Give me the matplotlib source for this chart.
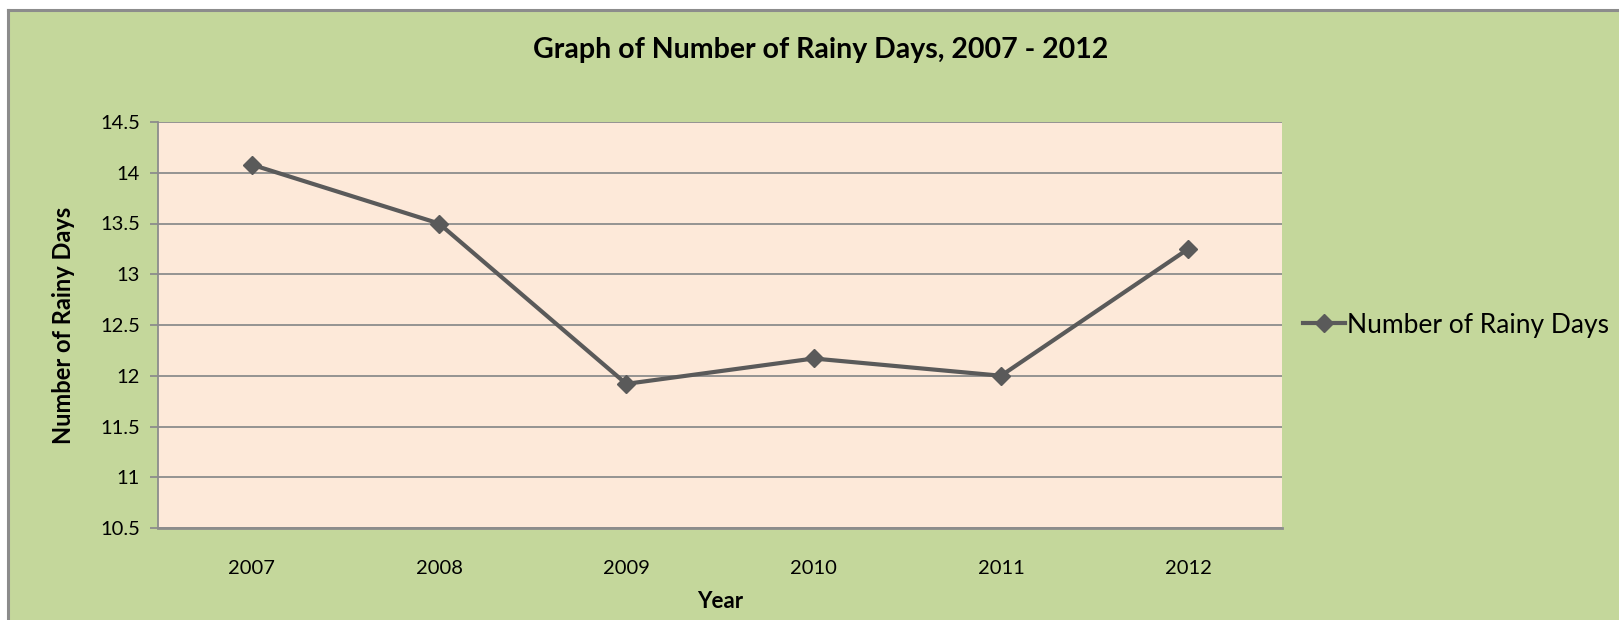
import matplotlib
matplotlib.use("Agg")
import matplotlib.pyplot as plt
from matplotlib.patches import Rectangle
from matplotlib.lines import Line2D

years = ["2007", "2008", "2009", "2010", "2011", "2012"]
rainy_days = [14.08, 13.5, 11.92, 12.17, 12.0, 13.25]
y_ticks = [10.5, 11, 11.5, 12, 12.5, 13, 13.5, 14, 14.5]
y_tick_labels = ["10.5", "11", "11.5", "12", "12.5", "13", "13.5", "14", "14.5"]

plt.rcParams['font.family'] = ['Lato', 'DejaVu Sans']

W, H = 1619, 620
fig = plt.figure(figsize=(W / 100, H / 100), dpi=100, facecolor='white')

# green chart area with grey border on top and left
x0, y0 = 8 / W, 1 - 10 / H
fig.patches.append(Rectangle((x0, 0), 1 - x0, y0, transform=fig.transFigure,
                             facecolor='#C4D79B', edgecolor='none', zorder=-5))
fig.lines.append(Line2D([x0, x0], [0, y0], transform=fig.transFigure, color='#8C8C8C', lw=2.2, zorder=-4))
fig.lines.append(Line2D([x0, 1], [y0, y0], transform=fig.transFigure, color='#8C8C8C', lw=2.2, zorder=-4))

left, right, top, bottom = 158, 1282, 122, 528
ax = fig.add_axes([left / W, 1 - bottom / H, (right - left) / W, (bottom - top) / H])
ax.set_zorder(1)
ax.set_facecolor('#FDE9D9')

x = range(len(years))
ax.plot(x, rainy_days, color='#5A5A5A', lw=3, marker='D', markersize=9,
        label='Number of Rainy Days', zorder=3)

ax.set_xlim(-0.5, len(years) - 0.5)
ax.set_ylim(10.5, 14.5)
ax.set_xticks(list(x))
ax.set_xticklabels(years, fontsize=14.5)
ax.set_yticks(y_ticks)
ax.set_yticklabels(y_tick_labels, fontsize=14.5)
ax.yaxis.grid(True, color='#8C8C8C', lw=1.3)
ax.set_axisbelow(True)

for s in ['top', 'right']:
    ax.spines[s].set_visible(False)
ax.spines['left'].set_color('#8C8C8C')
ax.spines['left'].set_linewidth(1.3)
ax.spines['bottom'].set_color('#8C8C8C')
ax.spines['bottom'].set_linewidth(2)
ax.tick_params(axis='y', length=6, width=1.3, color='#8C8C8C', pad=7)
ax.tick_params(axis='x', length=0, pad=23)

ax.set_xlabel('Year', fontsize=16, fontweight='bold', labelpad=10)
ax.set_ylabel('Number of Rainy Days', fontsize=17, fontweight='bold', labelpad=18)

fig.text(0.507, 1 - 50 / H, 'Graph of Number of Rainy Days, 2007 - 2012',
         ha='center', va='center', fontsize=20.5, fontweight='bold')

ax.legend(loc='center left', bbox_to_anchor=(1.0, 0.5), frameon=False,
          fontsize=19, handlelength=1.6, handletextpad=0.05, borderaxespad=0.4)

fig.savefig('out.png', dpi=100, facecolor=fig.get_facecolor())
